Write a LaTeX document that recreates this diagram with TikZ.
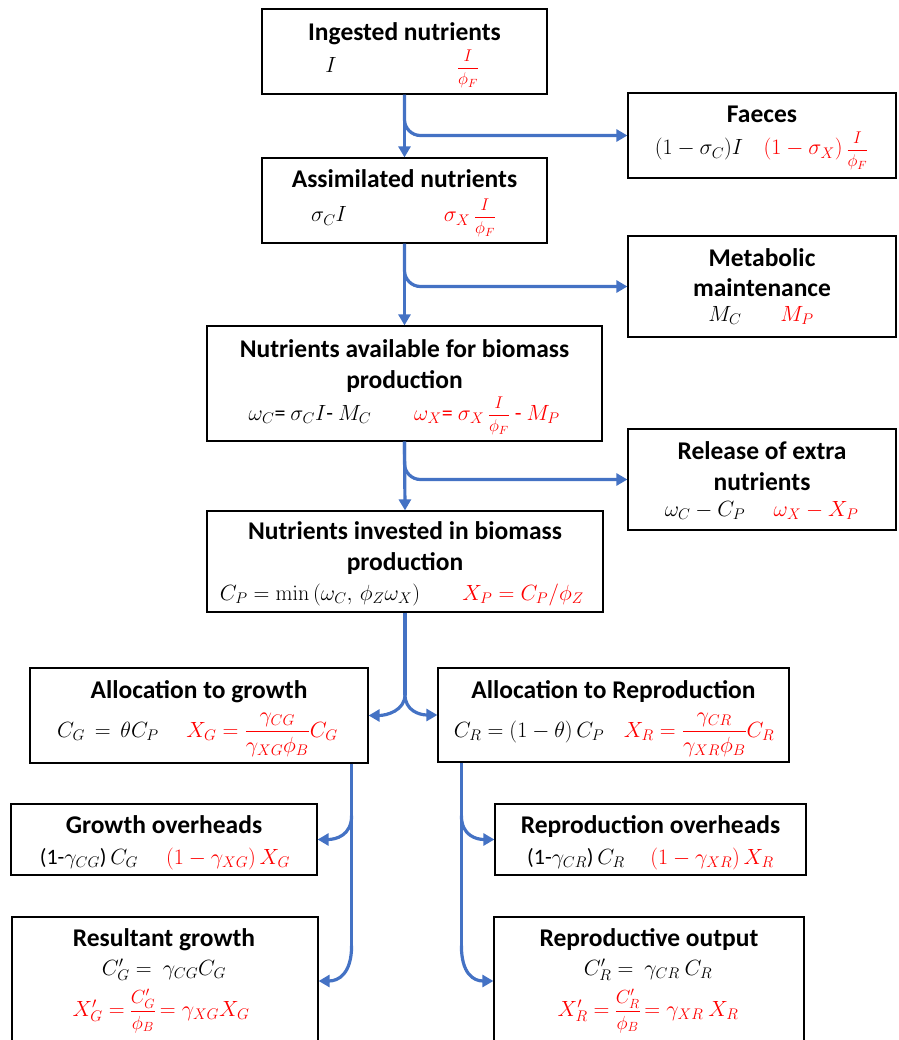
\RequirePackage{fix-cm}
\documentclass[tikz,border=0pt]{standalone}
\usepackage{amsmath}
\usepackage[no-math]{fontspec}
\setmainfont{Carlito}
\usetikzlibrary{arrows.meta,calc}
\definecolor{flowblue}{HTML}{4472C4}
\definecolor{myred}{HTML}{FF0000}
\newcommand{\myfrac}[3]{{\fontsize{#1}{#1}\selectfont$\dfrac{#2}{#3}$}}
\begin{document}
\begin{tikzpicture}[x=1pt,y=-1pt,
  box/.style={draw=black, line width=1.2pt, inner sep=0pt},
  ttl/.style={font=\fontsize{25.5}{30.5}\selectfont\bfseries, align=center, anchor=base, inner sep=0pt},
  mth/.style={font=\fontsize{22}{26}\selectfont, anchor=base, inner sep=0pt},
  rmth/.style={mth, text=myred},
  flow/.style={draw=flowblue, line width=3.2pt, -{Triangle[length=11pt,width=12pt]}},
  stem/.style={draw=flowblue, line width=3.2pt},
]
\useasboundingbox (0,0) rectangle (898,1040);

% boxes
\node[box, minimum width=285pt, minimum height=85pt] (ing) at (404.5,51.5) {};
\node[box, minimum width=268pt, minimum height=85pt] (fae) at (762,135.5) {};
\node[box, minimum width=285pt, minimum height=85pt] (asm) at (404.5,200.5) {};
\node[box, minimum width=268pt, minimum height=101pt] (met) at (762,286.5) {};
\node[box, minimum width=395pt, minimum height=115pt] (avl) at (404.5,383.5) {};
\node[box, minimum width=268pt, minimum height=101pt] (rel) at (762,479.5) {};
\node[box, minimum width=396pt, minimum height=101pt] (inv) at (405,561.5) {};
\node[box, minimum width=338pt, minimum height=95pt] (ag) at (199,715.5) {};
\node[box, minimum width=351pt, minimum height=94pt] (ar) at (613.5,715) {};
\node[box, minimum width=306pt, minimum height=71pt] (go) at (164,839.5) {};
\node[box, minimum width=311pt, minimum height=71pt] (ro) at (650.5,839.5) {};
\node[box, minimum width=306pt, minimum height=128pt] (rg) at (165,981) {};
\node[box, minimum width=310pt, minimum height=128pt] (rw) at (649,981) {};

% texts
\node[ttl] (ingT) at (404.5,41) {Ingested nutrients};
\node[mth] (ingC) at (331,73) {$I$};
\node[rmth] (ingX) at (468,73) {\myfrac{17}{I}{\phi_F}};

\node[ttl] (faeT) at (762,123) {Faeces};
\node[mth] (faeC) at (699,155) {$(1-\sigma_C)I$};
\node[rmth] (faeX) at (816,155) {$(1-\sigma_X)$\,\myfrac{17}{I}{\phi_F}};

\node[ttl] (asmT) at (404.5,188) {Assimilated nutrients};
\node[mth] (asmC) at (329,222) {$\sigma_C I$};
\node[rmth] (asmX) at (470,222) {$\sigma_X$\,\myfrac{17}{I}{\phi_F}};

\node[ttl] (metT) at (762,297) {Metabolic\\maintenance};
\node[mth] (metC) at (725,321) {$M_C$};
\node[rmth] (metX) at (797,321) {$M_P$};

\node[ttl] (avlT) at (404.5,388) {Nutrients available for biomass\\production};
\node[mth] (avlC) at (310,420) {$\omega_C$= $\sigma_C I$- $M_C$};
\node[rmth] (avlX) at (487,420) {$\omega_X$= $\sigma_X$\,\myfrac{17}{I}{\phi_F} - $M_P$};

\node[ttl] (relT) at (762,490) {Release of extra\\nutrients};
\node[mth] (relC) at (705,516) {$\omega_C - C_P$};
\node[rmth] (relX) at (816,516) {$\omega_X - X_P$};

\node[ttl] (invT) at (405,570) {Nutrients invested in biomass\\production};
\node[mth] (invC) at (320,600) {$C_P = \min\,(\omega_C,\, \phi_Z\omega_X)$};
\node[rmth] (invX) at (523,600) {$X_P = C_P/\phi_Z$};

\node[ttl] (agT) at (199,698) {Allocation to growth};
\node[mth] (agC) at (108,737) {$C_G\, =\, \theta C_P$};
\node[rmth] (agX) at (262,737) {$X_G = \dfrac{\gamma_{CG}}{\gamma_{XG}\phi_B}C_G$};

\node[ttl] (arT) at (613.5,698) {Allocation to Reproduction};
\node[mth] (arC) at (529,737) {$C_R = (1-\theta)\,C_P$};
\node[rmth] (arX) at (699,737) {$X_R = \dfrac{\gamma_{CR}}{\gamma_{XR}\phi_B}C_R$};

\node[ttl] (goT) at (164,833) {Growth overheads};
\node[mth] (goC) at (89,864) {(1-$\gamma_{CG}$)\,$C_G$};
\node[rmth] (goX) at (228,864) {$(1-\gamma_{XG})\,X_G$};

\node[ttl] (roT) at (650.5,833) {Reproduction overheads};
\node[mth] (roC) at (576,864) {(1-$\gamma_{CR}$)\,$C_R$};
\node[rmth] (roX) at (712,864) {$(1-\gamma_{XR})\,X_R$};

\node[ttl] (rgT) at (164,946) {Resultant growth};
\node[mth] (rgC) at (164,975) {$C'_G =\ \gamma_{CG}C_G$};
\node[rmth] (rgX) at (161,1016) {$X'_G =$\ \myfrac{19}{C'_G}{\phi_B}$\,= \gamma_{XG}X_G$};

\node[ttl] (rwT) at (649,946) {Reproductive output};
\node[mth] (rwC) at (648,975) {$C'_R =\ \gamma_{CR}\ C_R$};
\node[rmth] (rwX) at (648,1016) {$X'_R =$ \myfrac{19}{C'_R}{\phi_B}$\,= \gamma_{XR}\ X_R$};

% connectors
\draw[flow] (ing.south) -- (asm.north);
\draw[flow, rounded corners=16pt] (ing.south) |- (fae.west);
\draw[flow] (asm.south) -- (avl.north);
\draw[flow, rounded corners=16pt] (asm.south) |- (met.west);
\draw[flow] (avl.south) -- (inv.north);
\draw[flow, rounded corners=16pt] (avl.south) |- (rel.west);

\coordinate (split) at ($(inv.south)+(0,82)$);
\draw[stem] (inv.south) -- (split);
\draw[flow] (split) .. controls +(0,16) and +(18,0) .. (ag.east);
\draw[flow] (split) .. controls +(0,16) and +(-18,0) .. (ar.west);

\coordinate (g0) at ($(ag.south east)+(-17,0)$);
\coordinate (g1) at ($(g0)+(0,52)$);
\coordinate (g2) at ($(g0)+(0,182)$);
\draw[stem] (g0) -- (g2);
\draw[flow] (g1) .. controls +(0,20) and +(18,0) .. (go.east);
\draw[flow] (g2) .. controls +(0,28) and +(20,0) .. (rg.east);

\coordinate (r0) at ($(ar.south west)+(24,0)$);
\coordinate (r1) at ($(r0)+(0,53)$);
\coordinate (r2) at ($(r0)+(0,183)$);
\draw[stem] (r0) -- (r2);
\draw[flow] (r1) .. controls +(0,20) and +(-18,0) .. (ro.west);
\draw[flow] (r2) .. controls +(0,28) and +(-20,0) .. (rw.west);
\end{tikzpicture}
\end{document}
